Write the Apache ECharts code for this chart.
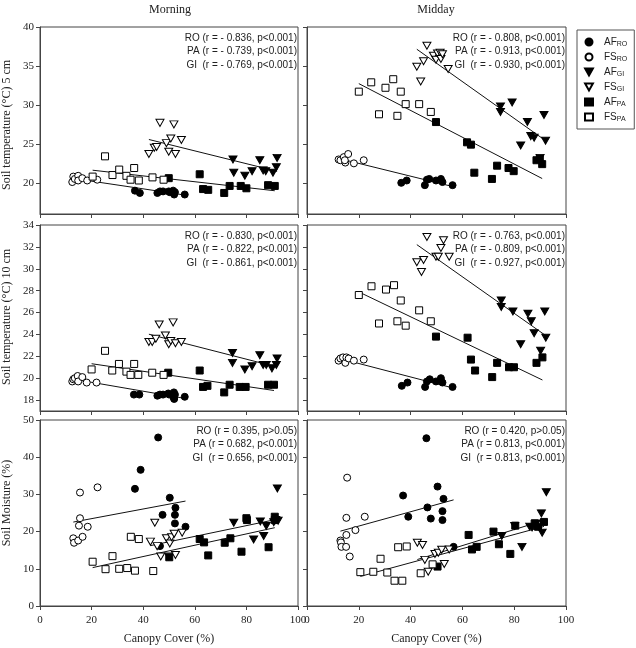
<!DOCTYPE html>
<html lang="en">
<head>
<meta charset="UTF-8">
<title>Canopy cover vs soil temperature and moisture</title>
<style>
  html, body { margin: 0; padding: 0; background: #fff; }
  #chart { width: 636px; height: 648px; }
</style>
</head>
<body>
<div id="chart"></div>
<script src="https://cdn.jsdelivr.net/npm/echarts/dist/echarts.min.js"></script>
<script>
// ---- data: [canopy cover %, value] ----
// Morning, soil temperature 5 cm
var mor5_afRO = [[36.8,19.0],[38.7,18.7],[45.5,18.7],[46.5,18.9],[47.7,18.9],[49.9,18.9],[50.3,18.8],[51.6,19.0],[52.0,18.5],[52.3,18.8],[56.1,18.5]];
var mor5_fsRO = [[12.5,20.1],[12.9,20.8],[13.5,20.5],[14.8,20.9],[14.8,20.3],[16.4,20.6],[18.3,20.3],[22.2,20.4]];
var mor5_afGI = [[74.8,23.0],[75.1,21.3],[79.4,20.9],[82.2,21.5],[85.2,22.9],[86.5,21.6],[87.5,21.5],[90.3,21.3],[91.9,23.2],[91.6,22.0]];
var mor5_fsGI = [[42.2,23.7],[44.3,24.5],[45.2,24.6],[46.5,27.7],[49.0,25.1],[49.9,24.0],[50.7,25.7],[51.9,27.5],[52.5,23.7],[54.8,25.5]];
var mor5_afPA = [[49.9,20.6],[61.9,21.1],[63.2,19.2],[65.2,19.1],[71.4,18.7],[73.5,19.6],[77.8,19.6],[80.0,19.3],[88.4,19.7],[91.0,19.6]];
var mor5_fsPA = [[20.4,20.8],[25.2,23.4],[28.1,21.0],[30.7,21.7],[33.5,20.9],[35.1,20.4],[36.5,21.9],[38.3,20.3],[43.6,20.7],[47.9,20.4]];

// Midday, soil temperature 5 cm
var mid5_afRO = [[36.4,20.0],[38.5,20.3],[45.5,19.7],[46.3,20.4],[47.2,20.5],[49.8,20.3],[51.7,20.5],[52.3,20.1],[56.2,19.7]];
var mid5_fsRO = [[12.2,23.0],[12.9,22.9],[14.2,23.3],[14.8,22.6],[15.9,23.7],[14.6,22.9],[18.1,22.5],[21.9,22.9]];
var mid5_afGI = [[74.7,29.8],[74.7,29.1],[79.2,30.3],[82.5,24.8],[85.1,27.8],[86.4,26.0],[87.7,25.8],[90.0,23.2],[91.5,28.7],[92.1,25.4]];
var mid5_fsGI = [[42.4,34.9],[43.9,33.0],[45.0,35.6],[46.3,37.6],[48.8,36.3],[49.8,35.8],[50.4,36.6],[51.4,36.7],[51.7,35.9],[52.3,36.5],[54.5,34.6]];
var mid5_afPA = [[49.8,27.8],[61.8,25.2],[63.3,24.9],[64.6,21.3],[71.4,20.5],[73.4,22.2],[77.8,21.9],[79.8,21.5],[88.6,22.9],[89.9,23.1],[90.8,22.4]];
var mid5_fsPA = [[20.0,31.7],[24.8,32.9],[27.8,28.8],[30.3,32.2],[33.3,33.3],[34.9,28.6],[36.2,31.7],[38.1,30.1],[43.3,30.1],[47.8,29.1]];

// Morning, soil temperature 10 cm
var mor10_afRO = [[36.4,18.5],[38.5,18.5],[45.5,18.4],[46.5,18.5],[47.7,18.5],[49.7,18.6],[50.1,18.5],[51.9,18.7],[51.9,18.2],[52.3,18.5],[52.0,18.1],[56.1,18.3]];
var mor10_fsRO = [[12.5,19.7],[12.9,19.9],[13.5,20.0],[14.6,20.2],[14.8,19.7],[16.4,20.1],[18.1,19.6],[21.9,19.6]];
var mor10_afGI = [[74.6,22.3],[74.6,21.4],[79.4,20.8],[82.2,21.1],[85.2,22.1],[86.5,21.2],[87.7,21.2],[89.9,20.9],[91.9,21.8],[91.6,21.2]];
var mor10_fsGI = [[42.2,23.3],[43.5,23.3],[44.9,23.6],[46.2,24.9],[48.6,23.9],[49.9,23.1],[50.7,23.4],[51.6,25.1],[52.5,23.2],[54.8,23.3]];
var mor10_afPA = [[49.7,20.5],[61.9,20.7],[63.2,19.2],[64.9,19.3],[71.4,18.7],[73.5,19.4],[77.4,19.2],[79.7,19.2],[88.4,19.4],[90.7,19.4]];
var mor10_fsPA = [[20.0,20.8],[25.2,22.5],[28.0,20.7],[30.6,21.3],[33.5,20.6],[35.1,20.3],[36.5,21.3],[38.1,20.3],[43.5,20.5],[47.9,20.3]];

// Midday, soil temperature 10 cm
var mid10_afRO = [[36.6,19.3],[38.8,19.6],[45.6,19.2],[46.3,19.7],[47.4,19.9],[49.8,19.7],[51.7,20.0],[52.3,19.6],[56.2,19.2]];
var mid10_fsRO = [[12.2,21.6],[12.9,21.8],[13.9,21.9],[14.8,21.4],[15.2,21.9],[16.1,21.8],[18.1,21.6],[21.9,21.7]];
var mid10_afGI = [[75.0,27.1],[75.0,26.5],[79.5,26.1],[82.5,23.1],[85.3,25.9],[86.6,25.2],[87.7,24.1],[90.2,22.5],[91.8,26.1],[92.2,23.7]];
var mid10_fsGI = [[42.4,30.6],[44.2,29.7],[45.0,30.8],[46.3,32.9],[49.8,31.1],[50.7,31.1],[51.7,31.9],[52.7,32.6],[54.9,31.1]];
var mid10_afPA = [[49.8,23.8],[62.0,23.7],[63.3,21.7],[64.9,20.7],[71.5,20.1],[73.4,21.4],[78.0,21.0],[79.9,21.0],[88.6,21.4],[90.9,21.9]];
var mid10_fsPA = [[20.0,27.6],[24.9,28.4],[27.8,25.0],[30.5,28.1],[33.6,28.5],[34.9,25.2],[36.2,27.1],[38.1,24.8],[43.3,26.2],[47.8,25.2]];

// Morning, soil moisture
var morSM_afRO = [[36.8,31.5],[39.0,36.6],[45.8,45.3],[46.5,16.1],[47.5,24.5],[50.3,29.1],[52.3,24.5],[52.3,22.2],[52.5,26.4],[56.4,21.3]];
var morSM_fsRO = [[12.9,18.2],[13.2,17.0],[14.8,17.6],[15.1,21.6],[15.5,23.6],[15.5,30.5],[16.5,18.6],[18.5,21.3],[22.3,31.9]];
var morSM_afGI = [[75.1,22.4],[82.8,17.9],[85.4,22.7],[86.7,18.8],[87.7,21.5],[90.6,22.5],[91.4,23.1],[92.0,31.6],[92.3,22.9]];
var morSM_fsGI = [[42.8,17.3],[44.5,22.4],[45.4,16.1],[46.8,13.3],[49.0,18.2],[50.3,16.8],[51.0,18.5],[52.0,19.4],[52.5,13.7],[55.1,19.7],[49.9,13.3]];
var morSM_afPA = [[50.1,13.1],[61.9,18.0],[63.6,17.1],[65.2,13.6],[71.6,17.0],[73.8,18.2],[78.1,14.6],[80.0,23.6],[80.2,23.1],[88.6,15.8],[91.0,24.0],[91.0,23.1]];
var morSM_fsPA = [[20.4,11.9],[25.4,9.9],[28.1,13.4],[30.7,10.0],[33.8,10.2],[35.2,18.6],[36.8,9.5],[38.3,18.0],[43.9,9.4]];

// Midday, soil moisture
var midSM_afRO = [[37.1,29.7],[39.1,24.0],[46.1,45.1],[46.5,26.5],[47.8,23.5],[50.4,32.1],[52.3,25.5],[52.3,23.1],[52.7,28.8],[56.6,15.9]];
var midSM_fsRO = [[12.9,17.6],[13.1,17.1],[13.3,15.9],[15.1,15.9],[15.2,23.7],[15.2,19.1],[15.5,34.5],[16.5,13.3],[18.7,20.4],[22.3,24.0]];
var midSM_afGI = [[75.2,18.8],[80.2,21.5],[83.0,15.9],[86.0,21.3],[86.9,21.1],[88.4,22.2],[90.5,24.9],[90.8,19.7],[92.4,30.6]];
var midSM_fsGI = [[42.6,17.0],[44.6,16.4],[45.5,12.4],[46.8,9.2],[49.4,14.0],[50.7,14.3],[52.0,15.1],[53.0,11.3],[54.9,15.2]];
var midSM_afPA = [[50.4,10.6],[62.4,19.1],[63.7,15.2],[65.5,15.9],[72.0,20.0],[74.1,16.6],[78.5,14.0],[80.4,21.6],[87.9,22.2],[89.2,21.3],[91.5,22.6]];
var midSM_fsPA = [[20.6,9.1],[25.6,9.2],[28.4,12.7],[31.0,9.0],[33.8,6.8],[35.2,15.8],[36.8,6.8],[38.5,16.0],[43.9,8.8],[48.5,11.2]];

// correlation notes per panel
var stats_mor5  = ['RO (r = - 0.836, p<0.001)', 'PA (r = - 0.739, p<0.001)', 'GI  (r = - 0.769, p<0.001)'];
var stats_mid5  = ['RO (r = - 0.808, p<0.001)', 'PA (r = - 0.913, p<0.001)', 'GI  (r = - 0.930, p<0.001)'];
var stats_mor10 = ['RO (r = - 0.830, p<0.001)', 'PA (r = - 0.822, p<0.001)', 'GI  (r = - 0.861, p<0.001)'];
var stats_mid10 = ['RO (r = - 0.763, p<0.001)', 'PA (r = - 0.809, p<0.001)', 'GI  (r = - 0.927, p<0.001)'];
var stats_morSM = ['RO (r = 0.395, p>0.05)', 'PA (r = 0.682, p<0.001)', 'GI  (r = 0.656, p<0.001)'];
var stats_midSM = ['RO (r = 0.420, p>0.05)', 'PA (r = 0.813, p<0.001)', 'GI  (r = 0.813, p<0.001)'];

var xTicks = [0, 20, 40, 60, 80, 100];
var yTicks5 = [20, 25, 30, 35, 40];
var yTicks10 = [18, 20, 22, 24, 26, 28, 30, 32, 34];
var yTicksSM = [0, 10, 20, 30, 40, 50];

var groupNames = ['AF_RO', 'FS_RO', 'AF_GI', 'FS_GI', 'AF_PA', 'FS_PA'];

// ---- layout ----
var serif = '"Liberation Serif", "Times New Roman", serif';
var sans = '"Liberation Sans", Arial, sans-serif';
var axisColor = '#444';
var colLeft = [40, 307];
var colWidth = [258, 259];
var rowTop = [27, 225, 420];
var rowHeight = [187, 186, 186];

var panels = [
    {row: 0, col: 0, d: [mor5_afRO, mor5_fsRO, mor5_afGI, mor5_fsGI, mor5_afPA, mor5_fsPA], stats: stats_mor5},
    {row: 0, col: 1, d: [mid5_afRO, mid5_fsRO, mid5_afGI, mid5_fsGI, mid5_afPA, mid5_fsPA], stats: stats_mid5},
    {row: 1, col: 0, d: [mor10_afRO, mor10_fsRO, mor10_afGI, mor10_fsGI, mor10_afPA, mor10_fsPA], stats: stats_mor10},
    {row: 1, col: 1, d: [mid10_afRO, mid10_fsRO, mid10_afGI, mid10_fsGI, mid10_afPA, mid10_fsPA], stats: stats_mid10},
    {row: 2, col: 0, d: [morSM_afRO, morSM_fsRO, morSM_afGI, morSM_fsGI, morSM_afPA, morSM_fsPA], stats: stats_morSM},
    {row: 2, col: 1, d: [midSM_afRO, midSM_fsRO, midSM_afGI, midSM_fsGI, midSM_afPA, midSM_fsPA], stats: stats_midSM}
];

var yRanges = [
    {min: 16, max: 40, ticks: yTicks5, name: 'Soil temperature (\u00B0C) 5 cm', nameY: 125},
    {min: 17, max: 34, ticks: yTicks10, name: 'Soil temperature (\u00B0C) 10 cm', nameY: 317},
    {min: 0, max: 50, ticks: yTicksSM, name: 'Soil Moisture (%)', nameY: 503}
];

var downTri = 'path://M0,0 L10,0 L5,9 Z';
var styles = {
    AF_RO: {symbol: 'circle', size: 7, fill: '#000'},
    FS_RO: {symbol: 'circle', size: 7, fill: '#fff'},
    AF_GI: {symbol: downTri, size: [8, 7], fill: '#000'},
    FS_GI: {symbol: downTri, size: [8, 7], fill: '#fff'},
    AF_PA: {symbol: 'rect', size: 7, fill: '#000'},
    FS_PA: {symbol: 'rect', size: 7, fill: '#fff'}
};

// least squares line through AF + FS of one site, drawn over its x range
function fitLine(a, b) {
    var pts = a.concat(b);
    var n = pts.length, sx = 0, sy = 0, sxx = 0, sxy = 0;
    pts.forEach(function (p) {
        sx += p[0]; sy += p[1]; sxx += p[0] * p[0]; sxy += p[0] * p[1];
    });
    var k = (n * sxy - sx * sy) / (n * sxx - sx * sx);
    var c = (sy - k * sx) / n;
    var xs = pts.map(function (p) { return p[0]; });
    var x0 = Math.min.apply(null, xs), x1 = Math.max.apply(null, xs);
    return [[x0, c + k * x0], [x1, c + k * x1]];
}

var grids = [], xAxes = [], yAxes = [], series = [], graphics = [];

panels.forEach(function (p, i) {
    var yr = yRanges[p.row];
    var bottomRow = p.row === 2;
    var leftCol = p.col === 0;
    grids.push({
        left: colLeft[p.col], top: rowTop[p.row],
        width: colWidth[p.col], height: rowHeight[p.row],
        show: true, borderColor: axisColor, borderWidth: 1
    });
    xAxes.push({
        gridIndex: i, type: 'value', min: 0, max: 100, interval: 20,
        axisLine: {lineStyle: {color: axisColor}},
        axisTick: {length: 4, lineStyle: {color: axisColor}},
        axisLabel: {show: bottomRow, margin: 9, color: '#222', fontFamily: serif, fontSize: 11},
        splitLine: {show: false},
        name: bottomRow ? 'Canopy Cover (%)' : '',
        nameLocation: 'middle', nameGap: 27,
        nameTextStyle: {color: '#222', fontFamily: serif, fontSize: 12}
    });
    yAxes.push({
        gridIndex: i, type: 'value', min: yr.min, max: yr.max,
        axisLine: {lineStyle: {color: axisColor}},
        axisTick: {length: 4, customValues: yr.ticks, lineStyle: {color: axisColor}},
        axisLabel: {show: leftCol, customValues: yr.ticks, margin: 6, color: '#222', fontFamily: serif, fontSize: 11},
        splitLine: {show: false}
    });

    // regression lines: RO, GI, PA
    [[0, 1], [2, 3], [4, 5]].forEach(function (pair) {
        series.push({
            type: 'line', xAxisIndex: i, yAxisIndex: i,
            data: fitLine(p.d[pair[0]], p.d[pair[1]]),
            symbol: 'none', silent: true, z: 1,
            lineStyle: {color: '#111', width: 1}
        });
    });

    groupNames.forEach(function (g, j) {
        var st = styles[g];
        series.push({
            name: g, type: 'scatter', xAxisIndex: i, yAxisIndex: i,
            data: p.d[j], symbol: st.symbol, symbolSize: st.size, z: 3,
            itemStyle: {color: st.fill, borderColor: '#000', borderWidth: 1, opacity: 1}
        });
    });

    var right = colLeft[p.col] + colWidth[p.col];
    p.stats.forEach(function (s, k) {
        graphics.push({
            type: 'text', x: right - 1, y: rowTop[p.row] + 6 + k * 13.5, z: 10,
            style: {text: s, font: '10px ' + sans, fill: '#222',
                textAlign: 'right', align: 'right', textVerticalAlign: 'top', verticalAlign: 'top'}
        });
    });
});

// y axis titles of the left column
yRanges.forEach(function (yr) {
    graphics.push({
        type: 'text', x: 7, y: yr.nameY, rotation: Math.PI / 2,
        style: {text: yr.name, font: '12px ' + serif, fill: '#222',
            textAlign: 'center', align: 'center', textVerticalAlign: 'middle', verticalAlign: 'middle'}
    });
});

graphics.push({
    type: 'text', x: 170, y: 4,
    style: {text: 'Morning', font: '12px ' + serif, fill: '#222', textAlign: 'center', align: 'center'}
});
graphics.push({
    type: 'text', x: 436, y: 4,
    style: {text: 'Midday', font: '12px ' + serif, fill: '#222', textAlign: 'center', align: 'center'}
});

var chart = echarts.init(document.getElementById('chart'));
chart.setOption({
    animation: false,
    grid: grids,
    xAxis: xAxes,
    yAxis: yAxes,
    series: series,
    graphic: graphics,
    legend: {
        orient: 'vertical', left: 577, top: 30,
        padding: [6, 7, 6, 7], itemGap: 3,
        itemWidth: 8, itemHeight: 7,
        borderColor: '#555', borderWidth: 1,
        data: groupNames,
        formatter: function (name) {
            var parts = name.split('_');
            return '{m|' + parts[0] + '}{s|' + parts[1] + '}';
        },
        textStyle: {
            color: '#222', fontFamily: sans,
            rich: {
                m: {fontSize: 10, lineHeight: 12, fontFamily: sans, color: '#222', padding: [0, 0, 0, 6]},
                s: {fontSize: 7, lineHeight: 12, fontFamily: sans, color: '#222', verticalAlign: 'bottom', padding: [5, 0, 0, 0]}
            }
        }
    }
});
</script>
</body>
</html>
